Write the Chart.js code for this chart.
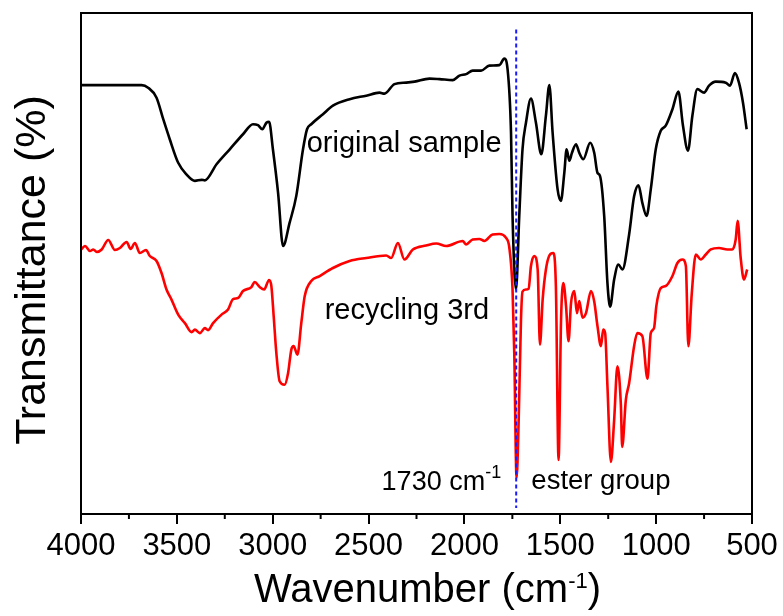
<!DOCTYPE html>
<html>
<head>
<meta charset="utf-8">
<script src="https://cdn.jsdelivr.net/npm/chart.js@4.4.0/dist/chart.umd.min.js"></script>
<style>
  html, body { margin: 0; padding: 0; background: #fff; }
  #wrap { width: 783px; height: 616px; }
</style>
</head>
<body>
<div id="wrap"><canvas id="ftir" width="783" height="616"></canvas></div>
<script>
// FTIR spectra: wavenumber (cm-1) / transmittance (arb. units 0-100)
const originalWn = [4000, 3684, 3650, 3606, 3571, 3537, 3493, 3450, 3406, 3371, 3354, 3293, 3224, 3155, 3103, 3077, 3054, 3033, 3019, 2999, 2972, 2946, 2912, 2877, 2842, 2821, 2799, 2738, 2686, 2599, 2512, 2443, 2417, 2365, 2304, 2260, 2182, 2130, 2061, 2026, 1991, 1957, 1913, 1870, 1818, 1792, 1775, 1757, 1749, 1731, 1714, 1697, 1679, 1653, 1627, 1599, 1575, 1557, 1540, 1514, 1497, 1479, 1467, 1453, 1439, 1418, 1401, 1380, 1344, 1323, 1306, 1293, 1271, 1254, 1240, 1219, 1197, 1176, 1141, 1115, 1092, 1072, 1050, 1028, 1002, 976, 950, 915, 884, 860, 834, 811, 785, 750, 724, 689, 637, 615, 589, 568, 547, 528];
const originalT = [85.6, 85.6, 85.1, 83.1, 78.8, 74.8, 70.1, 67.8, 66.5, 66.7, 66.6, 69.8, 72.8, 75.8, 77.8, 77.6, 76.8, 78.1, 78.3, 72.8, 64.1, 53.5, 58.1, 63.5, 72.8, 76.8, 77.8, 79.8, 81.5, 82.8, 83.5, 84.1, 83.9, 85.8, 86.1, 86.3, 86.9, 86.8, 86.6, 87.5, 87.8, 88.5, 88.5, 89.5, 89.6, 90.9, 88.8, 76.1, 59.5, 44.8, 59.5, 72.8, 78.1, 82.9, 78.1, 71.8, 79.5, 85.6, 76.1, 64.8, 62.5, 68.1, 72.8, 70.5, 72.1, 73.8, 72.1, 70.8, 74.1, 72.1, 68.1, 67.5, 59.5, 46.1, 41.4, 46.8, 49.8, 48.8, 55.8, 63.4, 65.6, 62.1, 59.5, 64.8, 72.8, 76.5, 77.5, 80.8, 84.3, 77.5, 72.5, 79.5, 84.8, 84.1, 85.5, 86.3, 86.1, 85.5, 88.0, 86.1, 82.1, 76.8];

const recycledWn = [4000, 3979, 3953, 3936, 3918, 3892, 3858, 3823, 3797, 3762, 3741, 3719, 3693, 3661, 3641, 3606, 3580, 3554, 3528, 3493, 3458, 3423, 3406, 3380, 3354, 3337, 3311, 3267, 3233, 3207, 3181, 3155, 3111, 3094, 3068, 3045, 3019, 3007, 2995, 2981, 2964, 2938, 2920, 2903, 2891, 2871, 2851, 2833, 2799, 2755, 2686, 2599, 2512, 2408, 2382, 2347, 2313, 2269, 2200, 2147, 2095, 2009, 1991, 1957, 1922, 1896, 1853, 1818, 1783, 1766, 1749, 1740, 1728, 1717, 1705, 1697, 1679, 1665, 1653, 1636, 1618, 1606, 1592, 1575, 1557, 1537, 1523, 1509, 1496, 1484, 1470, 1457, 1444, 1427, 1413, 1401, 1384, 1366, 1340, 1323, 1306, 1288, 1276, 1266, 1254, 1236, 1219, 1202, 1184, 1177, 1158, 1141, 1115, 1098, 1072, 1045, 1028, 1011, 999, 976, 950, 915, 889, 863, 845, 832, 814, 793, 767, 741, 715, 672, 629, 603, 585, 575, 559, 542, 525];
const recycledT = [52.8, 53.5, 52.5, 52.8, 52.3, 52.8, 54.7, 52.7, 53.1, 54.3, 52.9, 54.1, 52.1, 52.7, 51.5, 50.5, 48.1, 44.8, 42.8, 39.8, 38.1, 36.3, 36.8, 36.1, 37.1, 36.7, 38.1, 39.8, 40.8, 42.9, 43.1, 44.5, 45.3, 46.3, 45.3, 44.8, 46.7, 45.5, 39.5, 32.1, 26.5, 25.8, 28.1, 32.8, 33.5, 31.8, 38.1, 43.5, 46.5, 47.5, 49.1, 50.5, 51.1, 51.6, 51.1, 54.1, 50.8, 52.8, 53.6, 54.0, 53.5, 54.5, 53.8, 54.8, 54.9, 54.5, 55.8, 55.9, 55.1, 53.2, 44.8, 32.1, 7.2, 18.8, 38.8, 44.4, 44.8, 45.0, 49.5, 51.5, 48.8, 33.8, 42.8, 48.8, 51.6, 52.1, 45.5, 10.8, 38.8, 46.1, 41.5, 34.5, 42.1, 44.5, 40.1, 42.5, 39.2, 40.1, 44.5, 42.4, 37.5, 33.5, 36.8, 36.1, 25.5, 10.4, 18.8, 29.5, 21.8, 13.4, 22.8, 26.1, 33.5, 36.1, 35.5, 27.0, 36.1, 37.1, 41.5, 45.1, 45.5, 47.5, 50.1, 50.8, 49.5, 33.5, 44.1, 51.8, 50.8, 51.8, 52.8, 53.1, 52.8, 52.8, 54.8, 58.5, 51.1, 46.8, 48.8];

// ester C=O marker
const esterWn = 1730;
const esterLineT = [96.7, 1.2];

const xTicks = [4000, 3500, 3000, 2500, 2000, 1500, 1000, 500];
const xMinorTicks = [3750, 3250, 2750, 2250, 1750, 1250, 750];

const FONT = "'Liberation Sans', Arial, sans-serif";

// text placed inside the plot (data coordinates)
const notes = [
  { parts: [['original sample', false]], wn: 2823, t: 72.2, size: 29 },
  { parts: [['recycling 3rd', false]], wn: 2729, t: 38.9, size: 29 },
  { parts: [['1730 cm', false], ['-1', true]], wn: 2432, t: 4.8, size: 27, sup: 18, rise: 12 },
  { parts: [['ester group', false]], wn: 1651, t: 5.0, size: 27.5 }
];

function writeRich(ctx, parts, x, y, size, supSize, rise) {
  let cx = x;
  parts.forEach(([txt, sup]) => {
    ctx.font = (sup ? supSize : size) + 'px ' + FONT;
    ctx.fillText(txt, cx, sup ? y - rise : y);
    cx += ctx.measureText(txt).width;
  });
  return cx - x;
}

function richWidth(ctx, parts, size, supSize) {
  let w = 0;
  parts.forEach(([txt, sup]) => {
    ctx.font = (sup ? supSize : size) + 'px ' + FONT;
    w += ctx.measureText(txt).width;
  });
  return w;
}

const decor = {
  id: 'decor',
  afterDraw(chart) {
    const { ctx, chartArea: a, scales: { x, y } } = chart;
    ctx.save();
    ctx.strokeStyle = '#000';
    ctx.lineWidth = 2;
    ctx.strokeRect(a.left, a.top, a.right - a.left, a.bottom - a.top);

    // minor ticks (shorter)
    xMinorTicks.forEach(v => {
      const px = x.getPixelForValue(v);
      ctx.beginPath();
      ctx.moveTo(px, a.bottom);
      ctx.lineTo(px, a.bottom + 5);
      ctx.stroke();
    });

    ctx.fillStyle = '#000';
    ctx.textAlign = 'left';
    ctx.textBaseline = 'alphabetic';
    notes.forEach(n => {
      writeRich(ctx, n.parts, x.getPixelForValue(n.wn), y.getPixelForValue(n.t), n.size, n.sup || n.size, n.rise || 0);
    });

    // x axis title with superscript
    const title = [['Wavenumber (cm', false], ['-1', true], [')', false]];
    const w = richWidth(ctx, title, 40, 22);
    const cx = (a.left + a.right) / 2 + 11;
    writeRich(ctx, title, cx - w / 2, 602, 40, 22, 14);

    // y axis title
    ctx.save();
    ctx.translate(45, 270);
    ctx.rotate(-Math.PI / 2);
    ctx.font = '43px ' + FONT;
    ctx.textAlign = 'center';
    ctx.fillText('Transmittance (%)', 0, 0);
    ctx.restore();

    ctx.restore();
  }
};

const toPoints = (xs, ys) => xs.map((v, i) => ({ x: v, y: ys[i] }));

new Chart(document.getElementById('ftir'), {
  type: 'line',
  data: {
    datasets: [
      {
        label: 'ester group',
        data: esterLineT.map(t => ({ x: esterWn, y: t })),
        borderColor: '#1a1aff',
        borderWidth: 2,
        borderDash: [4, 3],
        pointRadius: 0
      },
      {
        label: 'original sample',
        data: toPoints(originalWn, originalT),
        borderColor: '#000000',
        borderWidth: 2.6,
        pointRadius: 0,
        cubicInterpolationMode: 'monotone'
      },
      {
        label: 'recycling 3rd',
        data: toPoints(recycledWn, recycledT),
        borderColor: '#ff0000',
        borderWidth: 2.6,
        pointRadius: 0,
        cubicInterpolationMode: 'monotone'
      }
    ]
  },
  options: {
    responsive: false,
    devicePixelRatio: 1,
    animation: false,
    layout: { padding: { top: 13, right: 31, left: 0, bottom: 0 } },
    plugins: {
      legend: { display: false },
      tooltip: { enabled: false }
    },
    scales: {
      x: {
        type: 'linear',
        reverse: true,
        min: 500,
        max: 4000,
        afterBuildTicks: s => { s.ticks = xTicks.map(v => ({ value: v })); },
        afterFit: s => { s.height = 102; },
        ticks: {
          color: '#000',
          font: { family: FONT, size: 31 },
          padding: 4,
          maxRotation: 0,
          autoSkip: false,
          callback: v => String(v)
        },
        grid: {
          drawOnChartArea: false,
          drawTicks: true,
          tickLength: 10,
          color: '#000',
          lineWidth: 2
        },
        border: { display: false }
      },
      y: {
        min: 0,
        max: 100,
        afterFit: s => { s.width = 81; },
        ticks: { display: false },
        grid: { display: false },
        border: { display: false },
        title: { display: false }
      }
    }
  },
  plugins: [decor]
});
</script>
</body>
</html>
